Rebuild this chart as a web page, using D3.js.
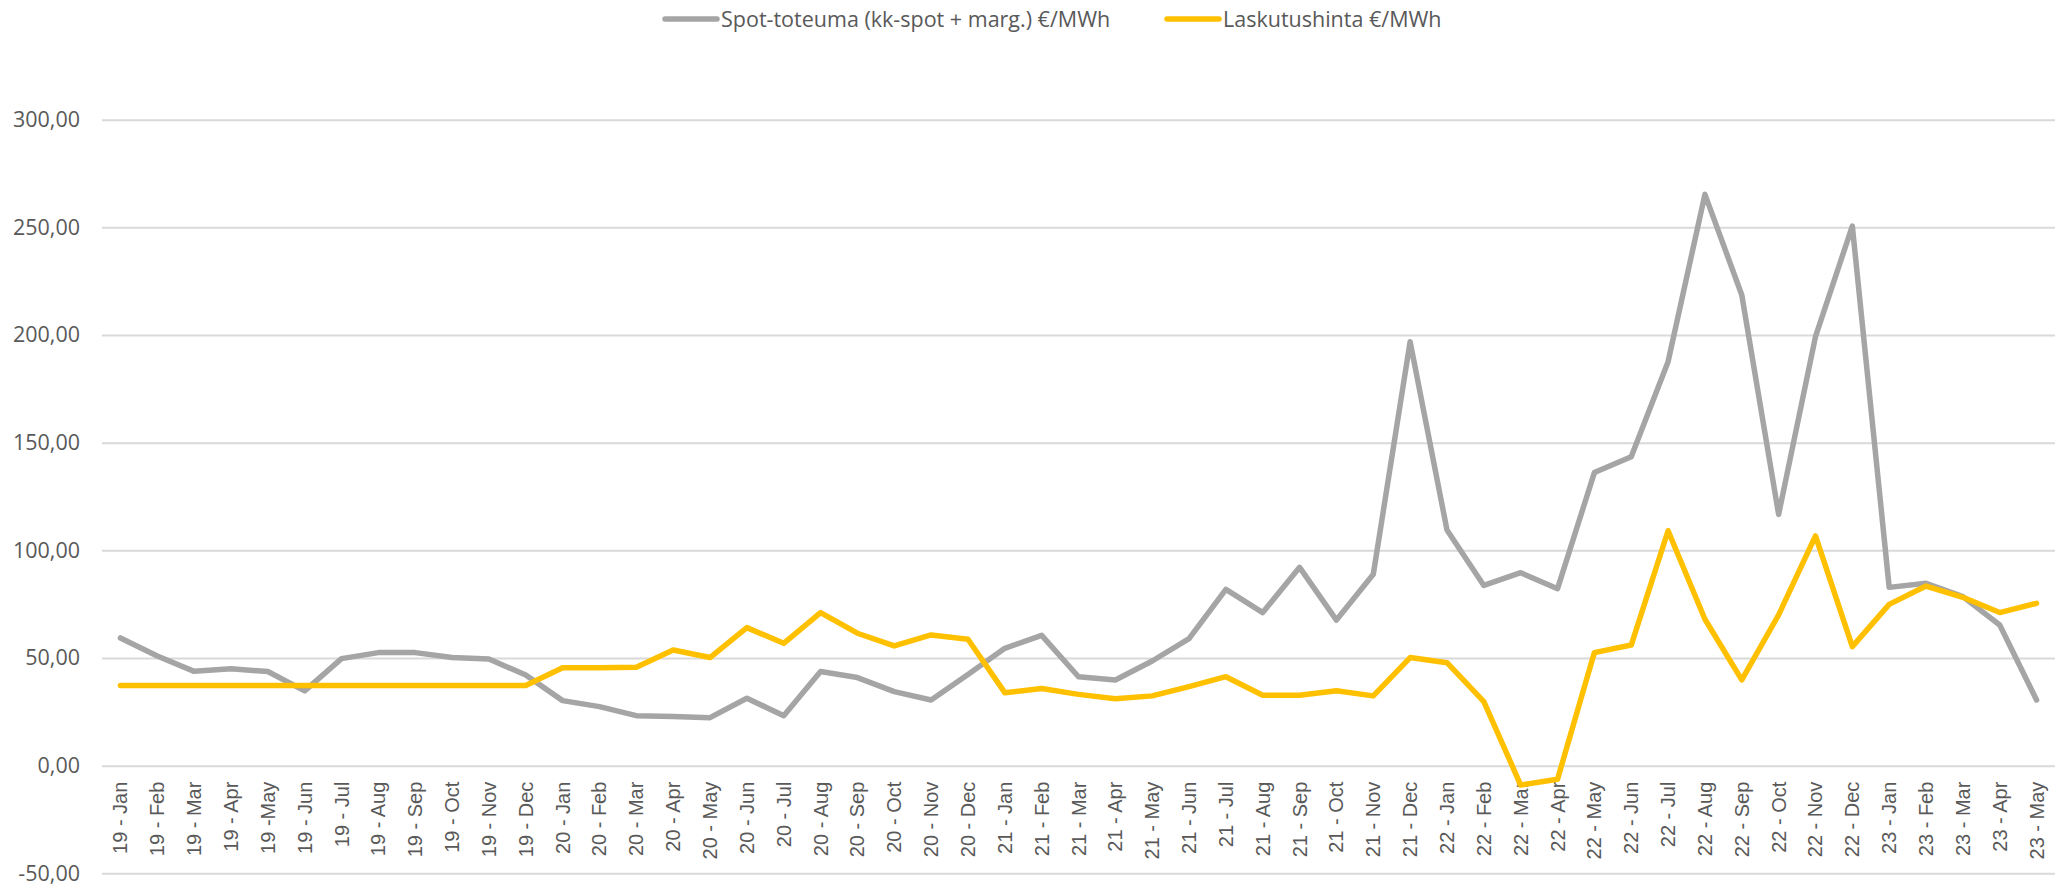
<!DOCTYPE html>
<meta charset="utf-8">
<html>
<head>
<script src="https://cdnjs.cloudflare.com/ajax/libs/d3/7.8.5/d3.min.js"></script>
<style>
  body { margin: 0; background: #fff; }
  svg text { fill: #595959; }
</style>
</head>
<body>
<script>
// month labels (as in the source sheet)
var months = [
  "19 - Jan","19 - Feb","19 - Mar","19 - Apr","19 -May","19 - Jun","19 - Jul","19 - Aug","19 - Sep","19 - Oct","19 - Nov","19 - Dec",
  "20 - Jan","20 - Feb","20 - Mar","20 - Apr","20 - May","20 - Jun","20 - Jul","20 - Aug","20 - Sep","20 - Oct","20 - Nov","20 - Dec",
  "21 - Jan","21 - Feb","21 - Mar","21 - Apr","21 - May","21 - Jun","21 - Jul","21 - Aug","21 - Sep","21 - Oct","21 - Nov","21 - Dec",
  "22 - Jan","22 - Feb","22 - Mar","22 - Apr","22 - May","22 - Jun","22 - Jul","22 - Aug","22 - Sep","22 - Oct","22 - Nov","22 - Dec",
  "23 - Jan","23 - Feb","23 - Mar","23 - Apr","23 - May"
];

var spot = [
  59.3, 50.9, 43.8, 45.0, 43.7, 34.7, 49.7, 52.5, 52.5, 50.2, 49.5, 42.1,
  30.2, 27.4, 23.2, 22.8, 22.3, 31.3, 23.2, 43.7, 40.9, 34.4, 30.5, 42.3,
  54.5, 60.5, 41.3, 39.8, 48.6, 59.0, 81.9, 71.1, 92.1, 67.6, 88.9, 196.9,
  109.4, 83.7, 89.6, 82.2, 136.1, 143.5, 187.6, 265.3, 218.6, 116.7, 199.2, 250.6,
  82.8, 84.7, 78.5, 65.3, 30.5
];

var billing = [
  37.2, 37.2, 37.2, 37.2, 37.2, 37.2, 37.2, 37.2, 37.2, 37.2, 37.2, 37.2,
  45.5, 45.5, 45.7, 53.7, 50.2, 64.1, 56.8, 71.1, 61.5, 55.6, 60.7, 58.7,
  33.9, 35.8, 33.1, 31.1, 32.4, 36.7, 41.3, 32.7, 32.7, 34.8, 32.4, 50.2,
  47.8, 29.7, -9.0, -6.3, 52.5, 56.0, 109.1, 68.0, 39.8, 70.0, 106.7, 55.3,
  74.9, 83.4, 78.2, 71.1, 75.4
];

var yTicks = [-50, 0, 50, 100, 150, 200, 250, 300];

var seriesNames = ["Spot-toteuma (kk-spot + marg.) €/MWh", "Laskutushinta €/MWh"];
var seriesColors = ["#a5a5a5", "#ffc000"];

var W = 2059, H = 886;
var plotLeft = 102, plotRight = 2055, plotTop = 119.7, plotBottom = 873.3;

var svg = d3.select("body").append("svg")
    .attr("width", W)
    .attr("height", H);

var x = d3.scalePoint()
    .domain(months)
    .range([plotLeft, plotRight])
    .padding(0.5);

var y = d3.scaleLinear()
    .domain([-50, 300])
    .range([plotBottom, plotTop]);

// gridlines + y labels
var yAxis = d3.axisLeft(y)
    .tickValues(yTicks)
    .tickSize(-(plotRight - plotLeft))
    .tickPadding(22)
    .tickFormat(function(d) { return d3.format(".2f")(d).replace(".", ",").replace("−", "-"); });

var gy = svg.append("g")
    .attr("transform", "translate(" + plotLeft + ",0)")
    .call(yAxis);
gy.select(".domain").remove();
gy.selectAll("line").attr("stroke", "#d9d9d9").attr("stroke-width", 2);
gy.selectAll("text")
    .style("font-family", "'Open Sans', sans-serif")
    .style("font-size", "21.5px")
    .attr("fill", "#595959");

// month labels sit under the zero line
var gx = svg.append("g")
    .attr("transform", "translate(0," + y(0) + ")");
gx.selectAll("text")
    .data(months)
    .enter().append("text")
    .attr("transform", function(d) { return "translate(" + (x(d) + 7) + ",16) rotate(-90)"; })
    .attr("text-anchor", "end")
    .style("font-family", "'Liberation Sans', Arial, sans-serif")
    .style("font-size", "20px")
    .attr("fill", "#595959")
    .text(function(d) { return d; });

// lines
var line = d3.line()
    .x(function(d, i) { return x(months[i]); })
    .y(function(d) { return y(d); });

[spot, billing].forEach(function(vals, k) {
  svg.append("path")
     .datum(vals)
     .attr("d", line)
     .attr("fill", "none")
     .attr("stroke", seriesColors[k])
     .attr("stroke-width", 5.5)
     .attr("stroke-linejoin", "round")
     .attr("stroke-linecap", "round");
});

// legend
var legendX = [663, 1165];
var legend = svg.append("g");
seriesNames.forEach(function(name, k) {
  legend.append("line")
     .attr("x1", legendX[k] + 2).attr("x2", legendX[k] + 54)
     .attr("y1", 19).attr("y2", 19)
     .attr("stroke", seriesColors[k])
     .attr("stroke-width", 5.5)
     .attr("stroke-linecap", "round");
  legend.append("text")
     .attr("x", legendX[k] + 58)
     .attr("y", 26.5)
     .style("font-family", "'Open Sans', sans-serif")
     .style("font-size", "21.5px")
     .attr("fill", "#595959")
     .text(name);
});
</script>
</body>
</html>
